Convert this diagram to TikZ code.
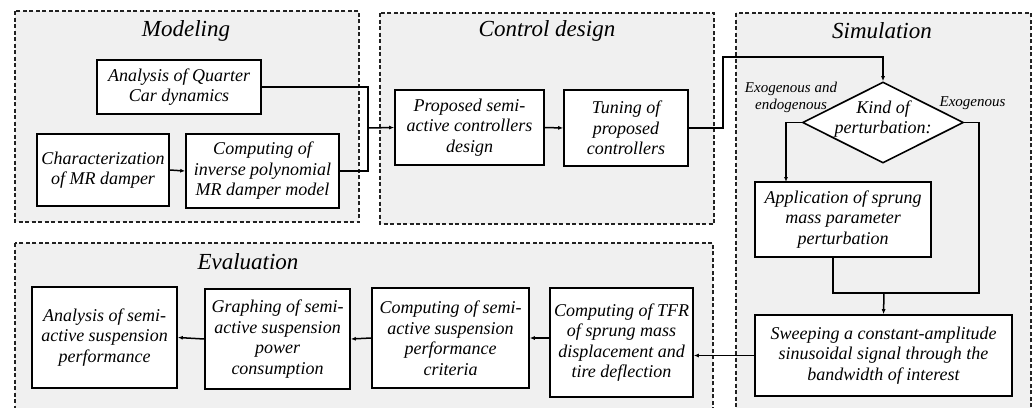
\documentclass[tikz,border=0pt]{standalone}
\usepackage{fontspec}
\setmainfont{Liberation Serif}
\usetikzlibrary{arrows.meta,shapes.geometric}
\definecolor{groupfill}{HTML}{F0F0F0}
\definecolor{groupline}{HTML}{222222}
\tikzset{
  group/.style={draw=groupline, fill=groupfill, line width=1.2pt, dash pattern=on 4pt off 2.5pt},
  grouptitle/.style={font=\fontsize{23}{26}\selectfont\itshape, inner sep=0pt},
  stepbox/.style={draw=black, fill=white, line width=1.6pt, align=center, inner sep=0pt,
    font=\fontsize{18}{20.5}\selectfont\itshape},
  decision/.style={draw=black, fill=white, line width=1.6pt, diamond, inner sep=0pt},
  branchlabel/.style={font=\fontsize{15}{17}\selectfont\itshape, align=center, inner sep=0pt},
  link/.style={line width=1.5pt, black},
  arr/.style={link, -{Latex[length=5pt,width=4pt]}},
}
\begin{document}
\begin{tikzpicture}[x=1pt, y=-1pt]
  \useasboundingbox (0,0) rectangle (1032,407);

  % stage frames
  \path[group] (15,11) rectangle (359,222);
  \path[group] (380,13) rectangle (714,224);
  \path[group] (736,13) rectangle (1031,420);
  \path[group] (15,243) rectangle (713,420);

  \node[grouptitle] (tmod) at (186,31) {Modeling};
  \node[grouptitle] (tctl) at (547,31) {Control design};
  \node[grouptitle] (tsim) at (882,31) {Simulation};
  \node[grouptitle] (teva) at (248,262) {Evaluation};

  % modeling
  \node[stepbox, minimum width=164pt, minimum height=54pt] (aqc) at (179,87)
    {Analysis of Quarter\\Car dynamics};
  \node[stepbox, minimum width=132pt, minimum height=72pt] (char) at (103,170)
    {Characterization\\of MR damper};
  \node[stepbox, minimum width=153pt, minimum height=74pt] (inv) at (262.5,171)
    {Computing of\\inverse polynomial\\MR damper model};

  % control design
  \node[stepbox, minimum width=149pt, minimum height=75pt] (prop) at (469.5,127.5)
    {Proposed semi-\\active controllers\\design};
  \node[stepbox, minimum width=124pt, minimum height=76pt] (tune) at (626,128)
    {Tuning of\\proposed\\controllers};

  % simulation
  \node[decision, minimum width=161pt, minimum height=81pt] (dia) at (883,122.5) {};
  \node[stepbox, draw=none, fill=none] (diatext) at (883,119) {Kind of\\perturbation:};
  \node[branchlabel] (lboth) at (791,97) {Exogenous and\\endogenous};
  \node[branchlabel] (lexo) at (972.5,103) {Exogenous};
  \node[stepbox, minimum width=176pt, minimum height=75pt] (app) at (843,219.5)
    {Application of sprung\\mass parameter\\perturbation};
  \node[stepbox, minimum width=257pt, minimum height=81pt] (sweep) at (883.5,355.5)
    {Sweeping a constant-amplitude\\sinusoidal signal through the\\bandwidth of interest};

  % evaluation
  \node[stepbox, minimum width=143pt, minimum height=109pt] (tfr) at (621.5,342.5)
    {Computing of TFR\\of sprung mass\\displacement and\\tire deflection};
  \node[stepbox, minimum width=157pt, minimum height=100pt] (crit) at (450.5,338)
    {Computing of semi-\\active suspension\\performance\\criteria};
  \node[stepbox, minimum width=145pt, minimum height=100pt] (graph) at (277.5,339)
    {Graphing of semi-\\active suspension\\power\\consumption};
  \node[stepbox, minimum width=145pt, minimum height=101pt] (ana) at (104.5,337.5)
    {Analysis of semi-\\active suspension\\performance};

  % junction points
  \coordinate (jm) at (368,128);
  \coordinate (jt) at (723,57);
  \coordinate (jl) at (786,182);
  \coordinate (jr) at (979,293);
  \coordinate (jb) at (884,293);
  \coordinate (appout) at (833,257);

  % connectors
  \draw[link] (aqc.east) -| (jm) |- (inv.east);
  \draw[arr] (jm) -- (prop.west);
  \draw[arr] (char.east) -- (inv.west);
  \draw[arr] (prop.east) -- (tune.west);
  \draw[arr] (tune.east) -| (jt) -| (dia.north);
  \draw[arr] (dia.west) -| (jl);
  \draw[link] (dia.east) -| (jr) -| (appout);
  \draw[arr] (jb) -- (sweep.north);
  \draw[arr] (sweep.west) -- (sweep.west -| tfr.east);
  \draw[arr] (tfr.west |- crit.east) -- (crit.east);
  \draw[arr] (crit.west) -- (graph.east);
  \draw[arr] (graph.west) -- (ana.east);
\end{tikzpicture}
\end{document}
